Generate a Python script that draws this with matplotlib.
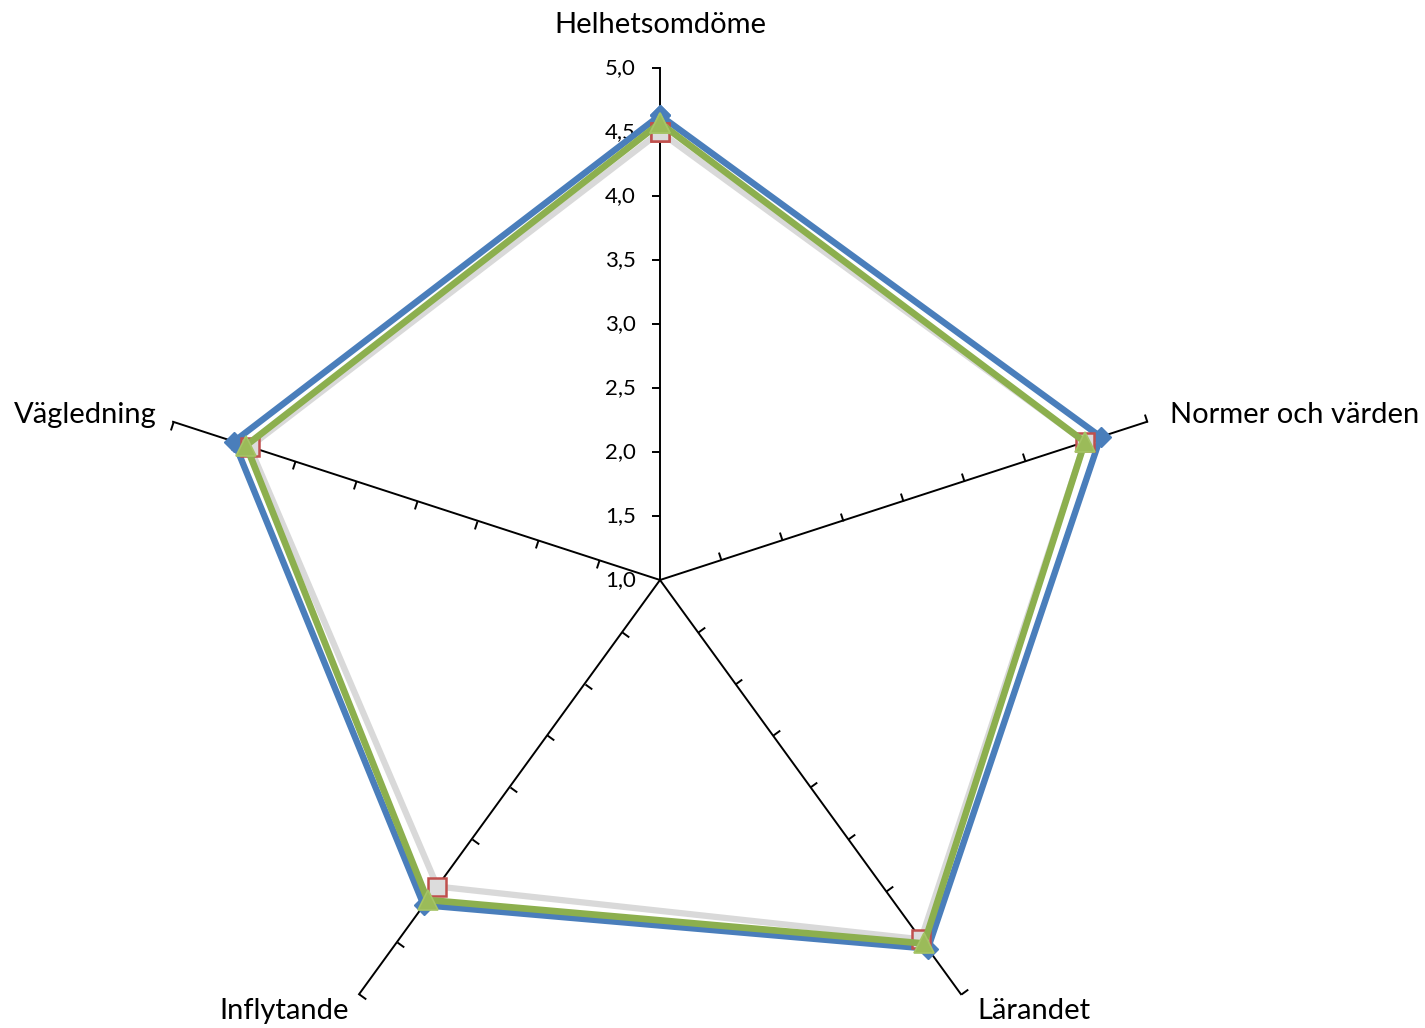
import numpy as np
import matplotlib
matplotlib.use("Agg")
import matplotlib.pyplot as plt
from matplotlib.markers import MarkerStyle
from matplotlib.path import Path
from matplotlib.transforms import Affine2D, offset_copy

plt.rcParams['font.family'] = ['Lato', 'DejaVu Sans']

# kategorier medurs från toppen
categories = ["Helhetsomdöme", "Normer och värden", "Lärandet", "Inflytande", "Vägledning"]
blue_vals = [4.63, 4.62, 4.56, 4.14, 4.50]
red_vals = [4.50, 4.49, 4.47, 3.96, 4.37]
green_vals = [4.57, 4.49, 4.51, 4.09, 4.40]
scale_vals = [1.0, 1.5, 2.0, 2.5, 3.0, 3.5, 4.0, 4.5, 5.0]
scale_labels = ["1,0", "1,5", "2,0", "2,5", "3,0", "3,5", "4,0", "4,5", "5,0"]

W, H = 1425, 1028
fig = plt.figure(figsize=(W / 100, H / 100), dpi=100)
cx, cy, R = 660, 448, 512
ax = fig.add_axes([(cx - R) / W, (cy - R) / H, 2 * R / W, 2 * R / H], projection='polar')
ax.set_theta_offset(np.pi / 2)
ax.set_theta_direction(-1)
ax.set_ylim(1, 5)
ax.grid(False)
ax.spines['polar'].set_visible(False)
ax.set_xticks([])
ax.set_yticks([])
ax.patch.set_visible(False)

n = len(categories)
theta = np.arange(n) * 2 * np.pi / n

# axlar med små streck på motsols sida
tick_path = Path([(0, 0), (1, 0)], [Path.MOVETO, Path.LINETO])
for i, th in enumerate(theta):
    ax.plot([th, th], [1, 5], color='black', lw=1.4, clip_on=False, zorder=2)
    rot = 180 - 72 * i
    m = MarkerStyle(tick_path, transform=Affine2D().rotate_deg(rot))
    ax.plot([th] * 8, scale_vals[1:], ls='none', marker=m, ms=12,
            mec='black', mew=1.4, clip_on=False, zorder=2)

# skalans etiketter på översta axeln
lab_tr = offset_copy(ax.transData, fig=fig, x=-24, y=0, units='dots')
for v, s in zip(scale_vals, scale_labels):
    ax.text(0, v, s, transform=lab_tr, ha='right', va='center', fontsize=16)

# kategorietiketter
label_opts = [
    (0, 43, 'center', 'center'),
    (23, 7, 'left', 'center'),
    (16, -17, 'left', 'center'),
    (-10, -17, 'right', 'center'),
    (-16, 7, 'right', 'center'),
]
for th, cat, (dx, dy, ha, va) in zip(theta, categories, label_opts):
    tr = offset_copy(ax.transData, fig=fig, x=dx, y=dy, units='dots')
    ax.text(th, 5, cat, transform=tr, ha=ha, va=va, fontsize=21)

th_closed = np.append(theta, theta[0])


def closed(v):
    return np.append(v, v[0])


ax.plot(th_closed, closed(blue_vals), color='#4A7EBB', lw=4.6, marker='D', ms=10,
        mfc='#4A7EBB', mec='#4A7EBB', clip_on=False, zorder=3)
ax.plot(th_closed, closed(red_vals), color='#D9D9D9', lw=4.5, marker='s', ms=13,
        mfc='#DCDCDC', mec='#C0504D', mew=1.8, clip_on=False, zorder=4)
ax.plot(th_closed, closed(green_vals), color='#8CAF4E', lw=4.8, marker='^', ms=14,
        mfc='#9BBB59', mec='#A5C466', mew=1.2, clip_on=False, zorder=5)

fig.savefig("out.png", dpi=100)
